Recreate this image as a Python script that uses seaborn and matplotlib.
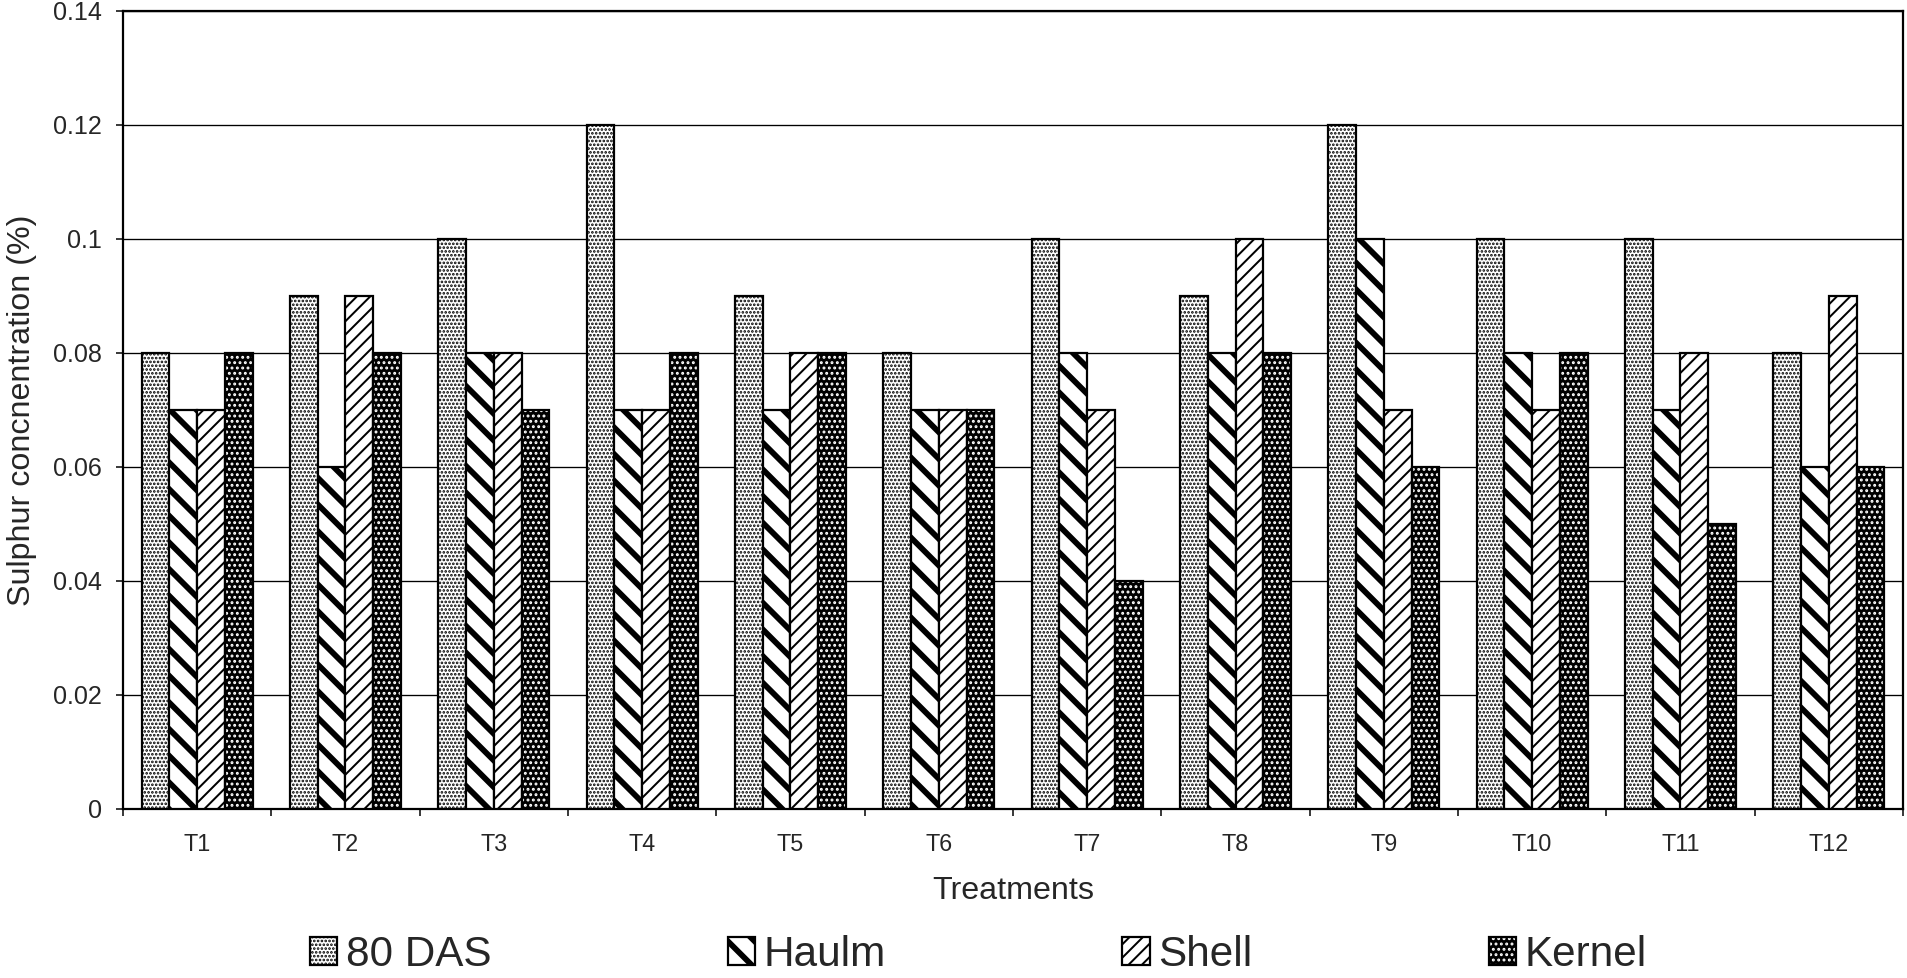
import numpy as np
import pandas as pd
import matplotlib
matplotlib.use("Agg")
import matplotlib.pyplot as plt
import matplotlib.patches as mpatches
from matplotlib import font_manager
import seaborn as sns

treatments = ["T1", "T2", "T3", "T4", "T5", "T6", "T7", "T8", "T9", "T10", "T11", "T12"]
das80 = [0.08, 0.09, 0.10, 0.12, 0.09, 0.08, 0.10, 0.09, 0.12, 0.10, 0.10, 0.08]
haulm = [0.07, 0.06, 0.08, 0.07, 0.07, 0.07, 0.08, 0.08, 0.10, 0.08, 0.07, 0.06]
shell = [0.07, 0.09, 0.08, 0.07, 0.08, 0.07, 0.07, 0.10, 0.07, 0.07, 0.08, 0.09]
kernel = [0.08, 0.08, 0.07, 0.08, 0.08, 0.07, 0.04, 0.08, 0.06, 0.08, 0.05, 0.06]
series_names = ["80 DAS", "Haulm", "Shell", "Kernel"]
yticks = [0, 0.02, 0.04, 0.06, 0.08, 0.1, 0.12, 0.14]
ytick_labels = ["0", "0.02", "0.04", "0.06", "0.08", "0.1", "0.12", "0.14"]

df = pd.DataFrame({
    "Treatment": treatments * 4,
    "Part": np.repeat(series_names, len(treatments)),
    "value": das80 + haulm + shell + kernel,
})

sns.set_style("white")
plt.rcParams["font.family"] = ["Liberation Sans", "DejaVu Sans"]

available = {f.name for f in font_manager.fontManager.ttflist}
if "Liberation Sans Narrow" in available:
    legend_font = {"family": "Liberation Sans Narrow", "size": 21.5}
else:
    legend_font = {"family": "Liberation Sans", "size": 19}

DPI = 160
fig = plt.figure(figsize=(1907 / DPI, 978 / DPI), dpi=DPI)
ax = fig.add_axes([123 / 1907, 1 - 809 / 978, (1903 - 123) / 1907, (809 - 11) / 978])

sns.barplot(data=df, x="Treatment", y="value", hue="Part", order=treatments,
            hue_order=series_names, width=0.75, errorbar=None, legend=False,
            palette=["white"] * 4, ax=ax, zorder=3)

# style: (face, hatch, hatch colour, hatch lw)
styles = [
    ("white", ".......", "black", 0.8),
    ("white", "\\\\", "black", 2.6),
    ("white", "////", "black", 0.9),
    ("black", ".....", "white", 0.85),
]


def style_patch(p, st):
    face, hatch, hcol, hlw = st
    p.set_facecolor(face)
    p.set_edgecolor("black")
    p.set_linewidth(1.0)
    p.set_hatch(hatch)
    p._hatch_color = matplotlib.colors.to_rgba(hcol)
    if hasattr(p, "set_hatch_linewidth"):
        p.set_hatch_linewidth(hlw)
    else:
        p._hatch_linewidth = hlw


for cont, st in zip(ax.containers, styles):
    for p in cont.patches:
        style_patch(p, st)
        p.set_zorder(3)

ax.set_ylim(0, 0.14)
ax.set_xlim(-0.5, len(treatments) - 0.5)
ax.set_yticks(yticks)
ax.set_yticklabels(ytick_labels)
ax.yaxis.grid(True, color="black", linewidth=0.6, zorder=0)
ax.set_axisbelow(True)

ax.set_xticks(np.arange(len(treatments)))
ax.set_xticklabels(treatments)
ax.set_xticks(np.arange(len(treatments) + 1) - 0.5, minor=True)
ax.tick_params(axis="x", which="major", length=0, pad=11, labelsize=10.5)
ax.tick_params(axis="x", which="minor", length=3.2, width=0.8, direction="out", bottom=True)
ax.tick_params(axis="y", length=3.0, width=0.8, direction="out", left=True, pad=6.5, labelsize=11.3)

for s in ax.spines.values():
    s.set_visible(True)
    s.set_color("black")
    s.set_linewidth(1.0)

ax.set_xlabel("Treatments", fontsize=14.5, labelpad=9)
ax.set_ylabel("Sulphur concnentration (%)", fontsize=14.5, labelpad=7)

handles = []
for name, st in zip(series_names, styles):
    h = mpatches.Patch(label=name)
    style_patch(h, st)
    handles.append(h)
leg = fig.legend(handles=handles, loc="center", bbox_to_anchor=(0.513, 0.024), ncol=4,
                 frameon=False, prop=legend_font, handlelength=0.65, handleheight=0.65,
                 handletextpad=0.2, columnspacing=5.6, borderaxespad=0)
for lp, st in zip(leg.get_patches(), styles):
    style_patch(lp, st)

fig.savefig("out.png", dpi=DPI)
